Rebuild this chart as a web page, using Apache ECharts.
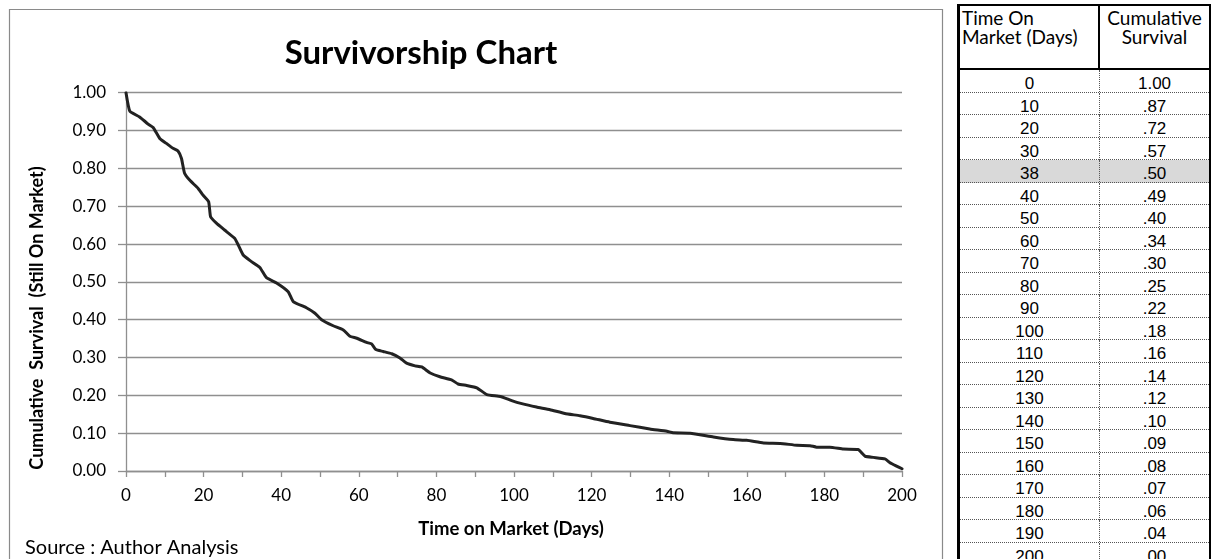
<!DOCTYPE html>
<html>
<head>
<meta charset="utf-8">
<title>Survivorship Chart</title>
<script src="https://cdn.jsdelivr.net/npm/echarts@6/dist/echarts.min.js"></script>
<style>
  html, body { margin: 0; padding: 0; background: #ffffff; }
  #wrap { position: relative; width: 1213px; height: 559px; overflow: hidden; background: #fff; }
  #chart { position: absolute; left: 0; top: 0; width: 1213px; height: 559px; }
  #survTable { position: absolute; left: 957px; top: 4px; width: 254px; height: 600px;
    box-sizing: border-box; border-left: 3px solid #000; border-right: 2px solid #000; border-top: 2px solid #000;
    background: #fff; }
  .hdr { position: absolute; top: 0; height: 64px; box-sizing: border-box; border-bottom: 2px solid #000;
    font-family: Lato, "Open Sans", sans-serif; font-size: 19px; line-height: 19px; color: #000; padding-top: 2px; }
  .hdr.c1 { left: 0; width: 140px; border-right: 2px solid #000; padding-left: 2px; text-align: left; }
  .hdr.c2 { left: 140px; width: 109px; text-align: center; }
  .row { position: absolute; left: 0; width: 249px; height: 22.5px; box-sizing: border-box;
    border-bottom: 1px dotted #555; font-family: "Liberation Sans", Arial, sans-serif; font-size: 17px; color: #000; }
  .row.hl { background: #d9d9d9; }
  .cell { position: absolute; top: 0; height: 22px; box-sizing: border-box; padding-top: 5px;
    line-height: 17px; text-align: center; }
  .cell.v1 { left: 0; width: 140px; border-right: 1px dotted #555; }
  .cell.v2 { left: 140px; width: 109px; }
</style>
</head>
<body>
<div id="wrap">
  <div id="chart"></div>
  <div id="survTable"></div>
</div>
<script>
// Survival curve: days on market vs. share of listings still unsold
const days = [
  0, 1.0, 3.5, 5.7, 7.0, 8.7, 10.4, 12.1, 13.4, 14.3, 15.1, 16.4, 18.6, 19.8, 21.3, 21.8,
  23.3, 25.4, 28.0, 28.9, 30.2, 32.0, 34.5, 36.2, 38.8, 41.8, 43.1, 46.6, 48.7, 50.4, 53.4,
  56.0, 57.7, 59.5, 62.0, 63.3, 64.4, 66.3, 68.5, 70.6, 72.3, 74.5, 76.2, 78.4, 80.9, 83.9,
  85.6, 87.8, 90.4, 93.0, 96.5, 99.4, 102.0, 105.8, 109.3, 113.1, 117.0, 120.4, 124.7, 129.9,
  135.0, 139.4, 141.0, 145.4, 151.4, 156.5, 160.0, 164.3, 168.6, 172.9, 176.3, 178.0, 181.4,
  184.9, 188.7, 189.6, 190.5, 192.6, 195.6, 196.9, 198.6, 200.0
];
const survival = [
  1.000, 0.951, 0.936, 0.917, 0.908, 0.879, 0.866, 0.853, 0.846, 0.826, 0.787, 0.769, 0.747, 0.730, 0.712, 0.672,
  0.655, 0.637, 0.615, 0.598, 0.571, 0.556, 0.538, 0.511, 0.497, 0.474, 0.448, 0.431, 0.417, 0.400, 0.384,
  0.373, 0.356, 0.351, 0.340, 0.336, 0.321, 0.316, 0.310, 0.299, 0.285, 0.278, 0.275, 0.259, 0.249, 0.241,
  0.230, 0.226, 0.220, 0.202, 0.197, 0.186, 0.178, 0.169, 0.162, 0.152, 0.146, 0.139, 0.129, 0.120,
  0.111, 0.105, 0.101, 0.100, 0.090, 0.083, 0.081, 0.074, 0.073, 0.068, 0.067, 0.063, 0.063,
  0.058, 0.057, 0.048, 0.039, 0.036, 0.032, 0.022, 0.013, 0.006
];

// Lookup table shown beside the chart
const tableDays = ['0', '10', '20', '30', '38', '40', '50', '60', '70', '80', '90', '100',
  '110', '120', '130', '140', '150', '160', '170', '180', '190', '200'];
const tableSurvival = ['1.00', '.87', '.72', '.57', '.50', '.49', '.40', '.34', '.30', '.25', '.22', '.18',
  '.16', '.14', '.12', '.10', '.09', '.08', '.07', '.06', '.04', '.00'];
const highlightDay = '38';

const chartTitle = 'Survivorship Chart';
const xAxisTitle = 'Time on Market (Days)';
const yAxisTitle = 'Cumulative  Survival  (Still On Market)';
const sourceNote = 'Source : Author Analysis';

const FONT = 'Lato, "Open Sans", sans-serif';
const GRID_GRAY = '#8f8f8f';

const chart = echarts.init(document.getElementById('chart'), null, { renderer: 'canvas' });

chart.setOption({
  backgroundColor: 'transparent',
  animation: false,
  grid: { left: 126, right: 311, top: 92.7, bottom: 88, outerBoundsMode: 'none' },
  xAxis: {
    type: 'value', min: 0, max: 200, interval: 10,
    axisLine: { show: true, lineStyle: { color: GRID_GRAY, width: 1.3 } },
    axisTick: { show: true, inside: false, length: 6, lineStyle: { color: GRID_GRAY, width: 1.3 } },
    axisLabel: {
      margin: 16, color: '#000', fontFamily: FONT, fontSize: 17,
      formatter: v => (v % 20 === 0 ? String(v) : '')
    },
    splitLine: { show: false }
  },
  yAxis: {
    type: 'value', min: 0, max: 1, interval: 0.1,
    axisLine: { show: true, lineStyle: { color: GRID_GRAY, width: 1.3 } },
    axisTick: { show: true, inside: false, length: 8, lineStyle: { color: GRID_GRAY, width: 1.3 } },
    axisLabel: { margin: 20, color: '#000', fontFamily: FONT, fontSize: 17, formatter: v => v.toFixed(2) },
    splitLine: { show: true, lineStyle: { color: GRID_GRAY, width: 1.3 } }
  },
  series: [{
    type: 'line',
    data: days.map((d, i) => [d, survival[i]]),
    showSymbol: false,
    smooth: 0.15,
    lineStyle: { color: '#222222', width: 3, join: 'round', cap: 'round' },
    z: 5
  }],
  graphic: [
    { type: 'rect', silent: true, z: -1,
      shape: { x: 9.5, y: 9.5, width: 933, height: 620 },
      style: { fill: 'none', stroke: '#8a8a8a', lineWidth: 1.2 } },
    { type: 'text', silent: true, x: 421, y: 53,
      style: { text: chartTitle, font: 'bold 33px ' + FONT, fill: '#000', textAlign: 'center', textVerticalAlign: 'middle' } },
    { type: 'text', silent: true, x: 511, y: 529,
      style: { text: xAxisTitle, font: 'bold 18.5px ' + FONT, fill: '#000', textAlign: 'center', textVerticalAlign: 'middle' } },
    { type: 'text', silent: true, x: 37, y: 318, rotation: Math.PI / 2,
      style: { text: yAxisTitle, font: 'bold 18px ' + FONT, fill: '#000', textAlign: 'center', textVerticalAlign: 'middle' } },
    { type: 'text', silent: true, x: 25, y: 548,
      style: { text: sourceNote, font: '20px ' + FONT, fill: '#000', textAlign: 'left', textVerticalAlign: 'middle' } }
  ]
});

// Build the lookup table from the arrays above
(function buildTable() {
  const box = document.getElementById('survTable');
  const h1 = document.createElement('div');
  h1.className = 'hdr c1';
  h1.innerHTML = 'Time On<br>Market (Days)';
  const h2 = document.createElement('div');
  h2.className = 'hdr c2';
  h2.innerHTML = 'Cumulative<br>Survival';
  box.appendChild(h1);
  box.appendChild(h2);
  const rowTop = 64;
  const rowH = 22.5;
  tableDays.forEach((d, i) => {
    const r = document.createElement('div');
    r.className = 'row' + (d === highlightDay ? ' hl' : '');
    r.style.top = (rowTop + i * rowH) + 'px';
    const a = document.createElement('div');
    a.className = 'cell v1';
    a.textContent = d;
    const b = document.createElement('div');
    b.className = 'cell v2';
    b.textContent = tableSurvival[i];
    r.appendChild(a);
    r.appendChild(b);
    box.appendChild(r);
  });
})();
</script>
</body>
</html>
